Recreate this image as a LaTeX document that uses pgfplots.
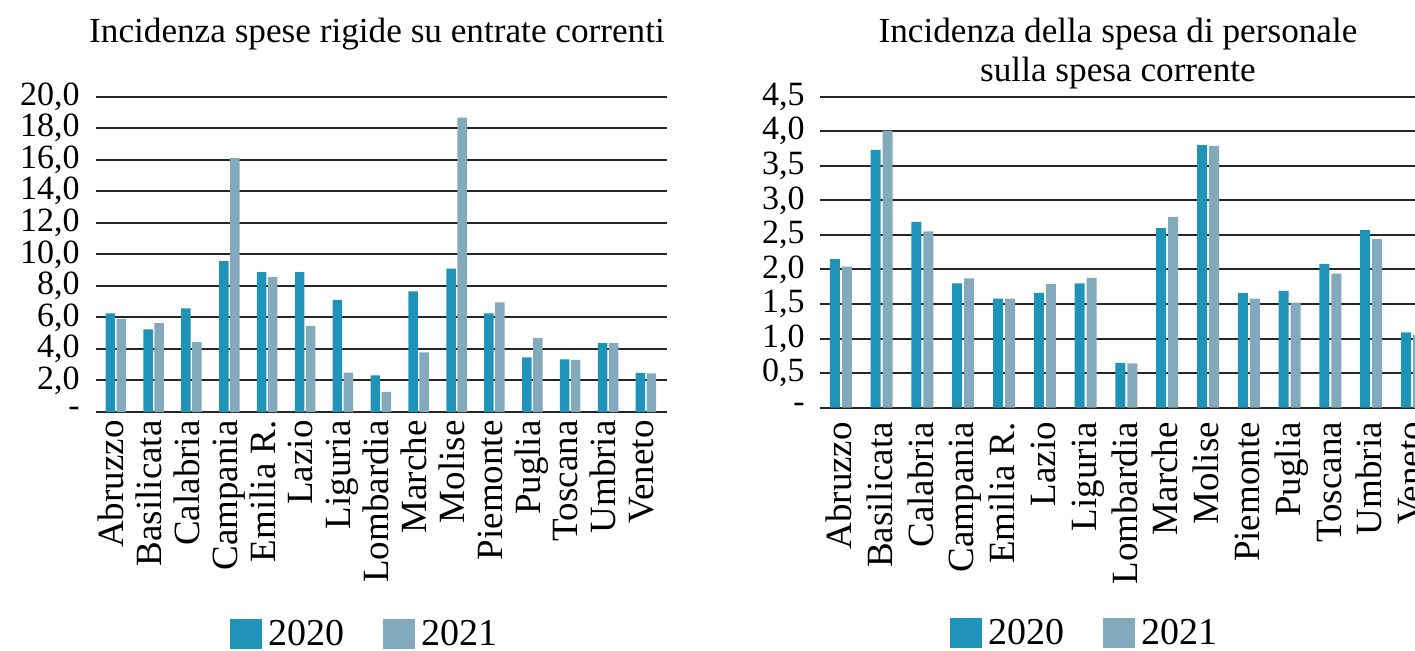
\documentclass[border=0pt]{standalone}
\usepackage{fontspec}
\setmainfont{Liberation Serif}
\usepackage{pgfplots}
\pgfplotsset{compat=1.18}
\definecolor{cA}{RGB}{32,148,184}
\definecolor{cB}{RGB}{130,169,188}
\pgfplotsset{
 myax/.style={
  scale only axis, ybar, axis line style={draw=none}, tick style={draw=none}, major tick length=0pt,
  ymajorgrids, major grid style={black!85, line width=1pt},
  xtick={0,...,14},
  xticklabels={Abruzzo,Basilicata,Calabria,Campania,Emilia R.,Lazio,Liguria,Lombardia,Marche,Molise,Piemonte,Puglia,Toscana,Umbria,Veneto},
  xticklabel style={rotate=90, anchor=east, inner sep=0pt, font=\fontsize{18.5}{20}\selectfont, text height=12pt},
  yticklabel style={anchor=east, inner sep=0pt, font=\fontsize{17}{19}\selectfont},
  clip=false,
  legend columns=2,
  legend style={draw=none, fill=none, font=\fontsize{19}{21}\selectfont, anchor=north west, inner sep=0pt,
    nodes={inner sep=0pt},
    /tikz/every odd column/.append style={column sep=3pt},
    /tikz/every even column/.append style={column sep=19.5pt}},
  legend image code/.code={\fill[##1] (0pt,-7.5pt) rectangle (16pt,7.5pt);},
 }
}
\begin{document}
\begin{tikzpicture}
\path[use as bounding box] (0,0) rectangle (707.5pt,325pt);
\clip (0,0) rectangle (707.5pt,325pt);
\begin{axis}[myax, at={(47.85pt,119pt)}, anchor=south west, width=285.5pt, height=157.65pt,
  xmin=-0.53, xmax=14.55, ymin=0, ymax=20, ytick={0,2,...,20},
  yticklabels={-,{2,0},{4,0},{6,0},{8,0},{10,0},{12,0},{14,0},{16,0},{18,0},{20,0}},
  bar width=4.75pt, xticklabel shift=4pt, yticklabel shift=7.8pt,
  xticklabel style={text depth=4.2pt},
  legend style={at={(0.2352,-0.655)}}]
\addplot[fill=cA, draw=none, bar shift=-2.75pt] coordinates {(0,6.25) (1,5.24) (2,6.57) (3,9.57) (4,8.87) (5,8.87) (6,7.12) (7,2.32) (8,7.65) (9,9.10) (10,6.25) (11,3.46) (12,3.34) (13,4.39) (14,2.49)};
\addplot[fill=cB, draw=none, bar shift=2.75pt] coordinates {(0,5.90) (1,5.64) (2,4.44) (3,16.1) (4,8.55) (5,5.47) (6,2.50) (7,1.27) (8,3.78) (9,18.67) (10,6.95) (11,4.69) (12,3.30) (13,4.39) (14,2.45)};
\legend{2020,2021}
\end{axis}
\begin{axis}[myax, at={(410pt,121.15pt)}, anchor=south west, width=306.4pt, height=155.5pt,
  xmin=-0.51, xmax=14.51, ymin=0, ymax=4.5, ytick={0,0.5,...,4.5},
  yticklabels={-,{0,5},{1,0},{1,5},{2,0},{2,5},{3,0},{3,5},{4,0},{4,5}},
  bar width=5pt, xticklabel shift=7pt, yticklabel shift=7.5pt,
  xticklabel style={text depth=1.3pt},
  legend style={at={(0.212,-0.675)}}]
\addplot[fill=cA, draw=none, bar shift=-3pt] coordinates {(0,2.15) (1,3.73) (2,2.69) (3,1.80) (4,1.58) (5,1.66) (6,1.80) (7,0.65) (8,2.60) (9,3.80) (10,1.66) (11,1.69) (12,2.08) (13,2.57) (14,1.09)};
\addplot[fill=cB, draw=none, bar shift=3pt] coordinates {(0,2.04) (1,4.01) (2,2.55) (3,1.87) (4,1.58) (5,1.79) (6,1.88) (7,0.64) (8,2.76) (9,3.79) (10,1.58) (11,1.52) (12,1.94) (13,2.44) (14,1.05)};
\legend{2020,2021}
\end{axis}
\node[anchor=base, font=\fontsize{17.6}{20}\selectfont] at (188.5pt,304pt) {Incidenza spese rigide su entrate correnti};
\node[anchor=base, font=\fontsize{17.6}{20}\selectfont] at (559pt,304pt) {Incidenza della spesa di personale};
\node[anchor=base, font=\fontsize{17.6}{20}\selectfont] at (559pt,284.5pt) {sulla spesa corrente};
\end{tikzpicture}
\end{document}
